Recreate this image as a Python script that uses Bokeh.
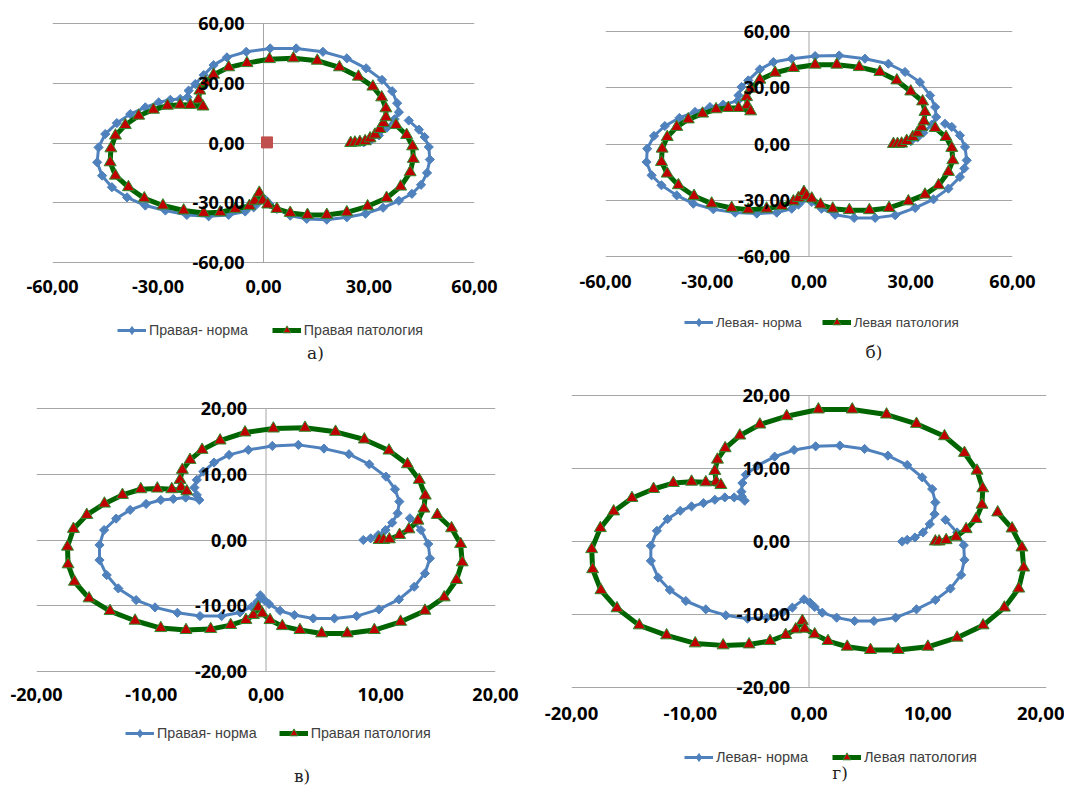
import numpy as np
from bokeh.plotting import figure
from bokeh.models import FixedTicker, Legend, LegendItem, Label, Range1d
from bokeh.layouts import row, column
from bokeh.embed import file_html
from bokeh.resources import INLINE

# ---------------- data ----------------
a_norm_x = [28.5, 30.4, 32.8, 35.1, 37.3, 38.5, 38.0, 36.6, 33.7, 29.2, 23.7, 16.9, 9.3, 1.9, -4.9, -10.4, -14.2,
            -17.0, -19.4, -21.3, -21.6,
            -23.7, -26.5, -29.8, -33.6, -37.9, -41.7, -45.0, -46.9, -47.3, -45.9, -43.1, -38.8, -33.6, -27.9, -21.8,
            -15.6, -9.9, -5.2, -2.8, -1.4, -0.5,
            0.5, 1.7, 3.8, 7.6, 12.3, 18.0, 23.7, 29.0, 34.0, 38.5, 42.2, 44.8, 46.5, 47.3, 47.0, 45.8, 44.2, 41.3]
a_norm_y = [0.3, 1.3, 3.8, 7.7, 12.0, 15.5, 20.0, 26.0, 31.7, 37.5, 42.5, 45.8, 47.5, 47.5, 45.8, 43.0, 39.1,
            34.1, 29.6, 26.3, 23.0,
            22.1, 21.7, 20.4, 17.9, 14.5, 10.0, 4.5, -2.2, -9.7, -16.4, -22.2, -27.3, -31.4, -33.9, -36.1,
            -36.8, -36.1, -34.4, -32.3, -29.8, -27.8,
            -28.4, -30.6, -33.1, -36.5, -38.1, -38.5, -37.3, -35.5, -32.5, -29.0, -25.5, -21.0, -15.0, -8.3, -2.0, 3.0, 6.7, 11.3]
a_path_x = [24.8, 26.0, 27.4, 28.9, 30.3, 31.7, 33.1, 34.1, 34.8, 34.8, 33.6, 31.1, 27.0, 21.6, 15.3, 8.5, 1.7,
            -4.7, -9.9, -14.2, -16.5, -18.1, -18.5, -17.2,
            -20.8, -23.7, -27.3, -31.3, -35.5, -39.3, -42.1, -43.4, -43.6, -42.1, -38.4, -33.9, -28.6, -22.7,
            -17.0, -12.3, -8.0, -4.0, -2.5, -1.2,
            -0.2, 1.2, 3.8, 7.6, 12.5, 18.0, 23.7, 29.6, 35.0, 39.0, 41.7, 42.6, 42.4, 40.7, 37.7]
a_path_y = [0.0, 0.2, 0.5, 0.9, 2.3, 4.2, 7.0, 10.0, 12.9, 17.4, 22.9, 28.3, 33.3, 38.0, 41.3, 42.5, 42.1,
            40.1, 38.0, 34.3, 30.5, 26.3, 21.8, 18.3,
            19.1, 19.2, 18.7, 16.7, 13.7, 9.0, 3.7, -2.7, -9.7, -16.4, -22.2, -27.8, -31.4, -33.9,
            -35.1, -34.8, -33.1, -31.6, -29.0, -25.0,
            -28.9, -30.9, -33.1, -35.1, -36.1, -36.1, -34.8, -31.8, -27.6, -21.9, -14.7, -8.0, -1.7, 4.0, 9.0]
a_center_x = [1.0]
a_center_y = [0.3]

b_norm_x = [28.0, 30.0, 32.0, 33.7, 36.2, 37.5, 37.2, 35.7, 32.7, 28.3, 23.4, 16.5, 8.9, 1.8, -5.1, -10.5, -14.5,
            -17.9, -19.9, -20.8, -21.0,
            -25.3, -29.2, -33.6, -38.2, -42.5, -45.7, -47.7, -47.9, -46.4, -43.5, -39.0, -34.1, -28.2, -21.8,
            -15.4, -9.5, -5.1, -3.1, -1.9, -1.5,
            0.8, 3.7, 7.7, 13.3, 19.5, 25.4, 31.3, 36.7, 41.1, 44.5, 45.8, 46.5, 46.0, 44.5, 42.1, 40.1]
b_norm_y = [0.3, 1.5, 3.5, 6.0, 10.3, 14.4, 19.7, 25.9, 33.0, 38.4, 42.8, 45.5, 47.2, 46.9, 45.5, 43.7, 39.8,
            33.9, 30.4, 25.9, 23.0,
            21.0, 19.7, 17.1, 13.9, 9.6, 4.3, -2.5, -9.6, -16.7, -22.0, -27.4, -31.8, -34.8, -36.6,
            -37.1, -36.6, -34.5, -32.3, -30.0, -27.0,
            -30.9, -34.5, -37.7, -39.4, -39.4, -38.0, -34.1, -29.5, -23.8, -17.6, -13.0, -8.7, -1.6, 4.6, 9.1, 10.8]
b_path_x = [24.9, 26.1, 27.3, 28.8, 30.6, 32.0, 33.2, 33.9, 34.2, 33.5, 30.0, 25.9, 20.9, 14.8, 8.2, 1.8, -4.6,
            -10.0, -14.5, -17.2, -18.4, -18.2, -17.2,
            -20.8, -23.8, -27.4, -31.4, -35.6, -39.0, -41.8, -43.3, -43.5, -41.8, -38.5, -33.9, -28.7, -22.8,
            -17.9, -12.5, -8.1, -4.6, -3.1, -1.5,
            -0.7, 0.8, 3.4, 7.0, 11.9, 17.8, 23.6, 29.3, 34.2, 38.2, 41.1, 42.4, 42.1, 40.4, 37.2]
b_path_y = [0.0, 0.0, 0.2, 1.6, 3.7, 6.0, 9.1, 12.1, 17.1, 22.7, 28.0, 33.9, 38.4, 41.0, 42.3, 42.3, 40.5,
            38.0, 34.3, 29.5, 25.0, 20.6, 17.4,
            19.2, 19.2, 18.5, 16.2, 13.1, 9.1, 3.7, -2.5, -9.6, -15.8, -22.0, -27.7, -31.8, -34.1,
            -35.0, -34.5, -33.0, -30.6, -28.8, -25.6,
            -27.7, -29.1, -32.3, -34.5, -35.3, -35.3, -34.1, -30.6, -27.0, -22.0, -14.9, -8.7, -2.1, 3.7, 8.5]

c_norm_x = [8.48, 9.12, 9.78, 10.42, 11.0, 11.47, 11.62, 11.24, 10.45, 9.0, 7.23, 5.05, 2.82, 0.55, -1.54, -3.22,
            -4.53, -5.46, -6.03, -6.24, -6.03, -5.81,
            -7.0, -8.08, -9.17, -10.45, -11.84, -13.06, -14.11, -14.51, -14.51, -13.88, -12.87, -11.32, -9.67,
            -7.72, -5.75, -3.87, -2.27, -1.25, -0.76, -0.5,
            -0.15, 0.27, 1.22, 2.47, 4.12, 5.96, 7.9, 9.84, 11.59, 12.92, 13.85, 14.29, 14.14, 13.5, 12.54]
c_norm_y = [0.0, 0.25, 0.76, 1.52, 2.64, 4.06, 5.84, 7.72, 9.64, 11.52, 13.05, 13.9, 14.47, 14.31, 13.71, 12.94,
            11.78, 10.41, 9.14, 7.97, 6.85, 6.09,
            6.45, 6.24, 6.09, 5.48, 4.57, 3.25, 1.52, -0.76, -3.05, -5.33, -7.36, -9.14, -10.25,
            -11.07, -11.57, -11.57, -11.02, -10.15, -9.39, -8.4,
            -9.14, -9.75, -10.76, -11.42, -11.93, -11.93, -11.57, -10.56, -9.04, -7.11, -5.08, -2.79, -0.61, 1.52, 3.3]
c_path_x = [9.86, 10.25, 10.75, 11.64, 12.45, 13.24, 13.76, 13.88, 13.36, 12.33, 10.72, 8.57, 6.06, 3.4, 0.64,
            -1.83, -4.0, -5.57, -6.62, -7.29, -7.49, -7.4, -6.9,
            -8.21, -9.47, -10.91, -12.51, -14.08, -15.62, -16.78, -17.3, -17.25, -16.69, -15.42, -13.59, -11.41,
            -9.17, -6.97, -4.82, -3.08, -1.75, -1.1, -0.67,
            -0.32, 0.35, 1.42, 2.96, 4.85, 7.08, 9.44, 11.73, 13.85, 15.53, 16.6, 17.1, 16.96, 16.17, 14.93]
c_path_y = [0.0, 0.0, 0.1, 0.76, 1.62, 2.94, 4.77, 6.75, 9.14, 11.52, 13.6, 15.28, 16.45, 17.06, 16.95,
            16.35, 15.13, 13.71, 12.18, 10.66, 9.14, 8.0, 7.4,
            7.72, 7.82, 7.72, 6.85, 5.53, 3.81, 1.68, -1.02, -3.71, -6.35, -8.88, -10.81, -12.28,
            -13.4, -13.7, -13.55, -12.94, -12.18, -11.42, -10.25,
            -11.17, -12.18, -13.1, -13.7, -14.21, -14.21, -13.7, -12.44, -10.76, -8.73, -6.09, -3.4, -0.61, 1.78, 3.81]

d_norm_x = [7.85, 8.27, 8.92, 9.61, 10.17, 10.57, 10.64, 10.37, 9.53, 8.27, 6.64, 4.68, 2.6, 0.56, -1.26, -2.89,
            -4.34, -5.32, -5.61, -5.69, -5.66, -5.41,
            -6.3, -7.09, -7.93, -8.89, -9.89, -10.84, -11.91, -12.81, -13.32, -13.32, -12.7, -11.72, -10.37,
            -8.69, -7.0, -5.18, -3.55, -2.24, -1.4, -0.42,
            0.09, 0.48, 1.12, 2.33, 3.84, 5.47, 7.29, 9.05, 10.64, 11.91, 12.81, 13.09, 13.03, 12.47, 11.49]
d_norm_y = [0.0, 0.23, 0.55, 1.24, 2.38, 3.75, 5.35, 7.19, 8.79, 10.48, 11.76, 12.68, 13.14, 13.04, 12.54, 11.62,
            10.39, 9.15, 8.01, 6.82, 6.18, 5.58,
            6.04, 6.04, 5.72, 5.26, 4.81, 4.21, 3.07, 1.46, -0.59, -2.65, -4.94, -6.64, -8.15,
            -9.29, -10.11, -10.57, -10.43, -9.75, -9.06, -7.92,
            -8.38, -8.97, -9.75, -10.43, -10.89, -10.89, -10.43, -9.29, -8.01, -6.45, -4.58, -2.52, -0.5, 1.24, 2.97]
d_path_x = [10.64, 10.96, 11.55, 12.38, 13.23, 14.07, 14.57, 14.63, 14.15, 13.09, 11.41, 9.05, 6.53, 3.64, 0.79,
            -1.88, -4.14, -5.83, -7.06, -7.71, -7.93, -7.82, -7.42,
            -8.69, -9.89, -11.43, -13.09, -14.91, -16.45, -17.57, -18.3, -18.22, -17.52, -16.17, -14.29, -11.99,
            -9.58, -7.23, -5.05, -3.28, -1.96, -1.12, -0.56,
            -0.36, 0.48, 1.6, 3.22, 5.18, 7.51, 10.01, 12.47, 14.66, 16.45, 17.66, 18.08, 17.93, 17.1, 15.89]
d_path_y = [0.0, 0.0, 0.18, 0.64, 1.69, 3.07, 5.03, 7.28, 9.7, 12.13, 14.42, 16.11, 17.39, 18.08, 18.08,
            17.16, 16.02, 14.51, 12.77, 11.21, 9.66, 8.19, 7.73,
            8.1, 8.19, 8.01, 7.19, 5.95, 4.12, 1.83, -1.05, -3.8, -6.68, -9.15, -11.49, -12.86,
            -13.96, -14.23, -14.1, -13.64, -12.81, -12.04, -10.89,
            -11.95, -12.72, -13.64, -14.42, -14.87, -14.87, -14.42, -13.18, -11.49, -9.06, -6.45, -3.57, -0.82, 1.78, 3.98]

ticks_60 = [-60, -30, 0, 30, 60]
labels_60 = ["-60,00", "-30,00", "0,00", "30,00", "60,00"]
ticks_20 = [-20, -10, 0, 10, 20]
labels_20 = ["-20,00", "-10,00", "0,00", "10,00", "20,00"]

names_right = ["Правая- норма", "Правая патология"]
names_left = ["Левая- норма", "Левая патология"]
captions = ["а)", "б)", "в)", "г)"]

BLUE = "#4F81BD"
GREEN = "#006400"
RED = "#C00000"
TRI_EDGE = "#2E8B2E"
GRID = "#A6A6A6"
TICK_FONT = "Open Sans"
PAD = 12  # px of empty frame above/below the outer gridlines (keeps the edge labels unclipped)
KEY_OFF = 200  # the key strip's y range starts here, so its sample points stay out of view


def make_chart(nx, ny, px, py, ticks, tlabels, cfg, cx=None, cy=None):
    lim = ticks[-1]
    fh = cfg["fh"]
    ylim = lim + PAD * (2 * lim) / fh
    p = figure(frame_width=cfg["fw"], frame_height=fh + 2 * PAD, output_backend="svg", toolbar_location=None,
               x_range=Range1d(-lim, lim), y_range=Range1d(-ylim, ylim), y_axis_location=None,
               min_border_left=cfg["bl"], min_border_right=cfg["br"], min_border_top=cfg["bt"] - PAD,
               min_border_bottom=cfg["bb"] - PAD)
    p.title.visible = False
    p.outline_line_color = None
    p.xgrid.visible = False
    p.ygrid.ticker = FixedTicker(ticks=ticks)
    p.ygrid.grid_line_color = GRID
    p.ygrid.grid_line_width = 1
    p.segment(x0=[0], y0=[ticks[0]], x1=[0], y1=[ticks[-1]], line_color=GRID, line_width=1)

    ax = p.xaxis[0]
    ax.ticker = FixedTicker(ticks=ticks)
    ax.major_label_overrides = {t: l for t, l in zip(ticks, tlabels)}
    ax.axis_line_color = None
    ax.major_tick_line_color = None
    ax.minor_tick_line_color = None
    ax.major_tick_out = 0
    ax.major_label_standoff = cfg["std"]
    ax.major_label_text_font = TICK_FONT
    ax.major_label_text_font_style = "bold"
    ax.major_label_text_font_size = cfg["fs"]
    ax.major_label_text_color = "black"

    p.line(nx, ny, line_color=BLUE, line_width=3)
    p.scatter(nx, ny, marker="square", angle=np.pi / 4, size=6.5, fill_color=BLUE, line_color=BLUE)
    p.line(px, py, line_color=GREEN, line_width=5)
    p.scatter(px, py, marker="triangle", size=12, fill_color=RED, line_color=TRI_EDGE, line_width=1)
    if cx is not None:
        p.scatter(cx, cy, marker="square", size=11, fill_color="#C0504D", line_color="#C0504D")

    for t, l in zip(ticks, tlabels):
        p.add_layout(Label(x=0, y=t, text=l, x_offset=-19, text_align="right", text_baseline="middle",
                           text_font=TICK_FONT, text_font_style="bold", text_font_size=cfg["fs"],
                           text_color="black"))
    return p


def make_key(names, caption, cfg, nx, ny, px, py):
    w, h = cfg["bl"] + cfg["fw"] + cfg["br"], cfg["kh"]
    k = figure(frame_width=w, frame_height=h, output_backend="svg", toolbar_location=None,
               x_range=Range1d(0, w), y_range=Range1d(KEY_OFF, KEY_OFF + h),
               x_axis_location=None, y_axis_location=None, min_border=0)
    k.title.visible = False
    k.outline_line_color = None
    k.grid.visible = False
    # legend samples: one point of each series, lying outside this strip's visible range
    ln = k.line(x=nx[:1], y=ny[:1], line_color=BLUE, line_width=3)
    dn = k.scatter(x=nx[:1], y=ny[:1], marker="diamond", size=11, fill_color=BLUE, line_color=BLUE)
    lp = k.line(x=px[:1], y=py[:1], line_color=GREEN, line_width=5)
    sp = k.scatter(x=px[:1], y=py[:1], marker="triangle", size=11, fill_color=RED, line_color=TRI_EDGE,
                   line_width=1)
    leg = Legend(items=[LegendItem(label=names[0], renderers=[ln, dn]),
                        LegendItem(label=names[1], renderers=[lp, sp])],
                 orientation="horizontal", location=(cfg["lx"], cfg["ly"] - 10), margin=0, padding=0,
                 spacing=cfg["sp"], glyph_width=29, glyph_height=20, label_standoff=3,
                 label_text_font="Liberation Sans", label_text_font_size=cfg["lfs"],
                 label_text_color="#404040", border_line_color=None, background_fill_alpha=0)
    k.add_layout(leg)
    k.add_layout(Label(x=cfg["bl"] + cfg["fw"] / 2, y=KEY_OFF + cfg["cy"], text=caption, text_align="center",
                       text_baseline="middle", text_font="DejaVu Serif", text_font_size="17px",
                       text_color="#222222"))
    return k


# layout geometry: frame sizes, borders, key-strip height; ly/cy measured up from the strip bottom
cfg_a = dict(fw=422, fh=239, bl=52, br=66, bt=23, bb=44, std=5, fs="18px", kh=74,
             lx=117, ly=50, sp=24, lfs="14.2px", cy=28)
cfg_b = dict(fw=407, fh=225, bl=65, br=52, bt=31, bb=44, std=6, fs="18px", kh=80,
             lx=144, ly=58, sp=20, lfs="13.5px", cy=29)
cfg_c = dict(fw=459, fh=263, bl=36, br=45, bt=28, bb=44, std=4, fs="18px", kh=73,
             lx=125, ly=55, sp=22, lfs="14.3px", cy=13)
cfg_d = dict(fw=475, fh=292, bl=31, br=18, bt=15, bb=44, std=7, fs="18.5px", kh=57,
             lx=144, ly=31, sp=24, lfs="14.5px", cy=16)

fa = make_chart(a_norm_x, a_norm_y, a_path_x, a_path_y, ticks_60, labels_60, cfg_a, a_center_x, a_center_y)
fb = make_chart(b_norm_x, b_norm_y, b_path_x, b_path_y, ticks_60, labels_60, cfg_b)
fc = make_chart(c_norm_x, c_norm_y, c_path_x, c_path_y, ticks_20, labels_20, cfg_c)
fd = make_chart(d_norm_x, d_norm_y, d_path_x, d_path_y, ticks_20, labels_20, cfg_d)
ka = make_key(names_right, captions[0], cfg_a, a_norm_x, a_norm_y, a_path_x, a_path_y)
kb = make_key(names_left, captions[1], cfg_b, b_norm_x, b_norm_y, b_path_x, b_path_y)
kc = make_key(names_right, captions[2], cfg_c, c_norm_x, c_norm_y, c_path_x, c_path_y)
kd = make_key(names_left, captions[3], cfg_d, d_norm_x, d_norm_y, d_path_x, d_path_y)

layout = column(row(column(fa, ka), column(fb, kb)), row(column(fc, kc), column(fd, kd)))
open("out.html", "w").write(file_html(layout, INLINE))
